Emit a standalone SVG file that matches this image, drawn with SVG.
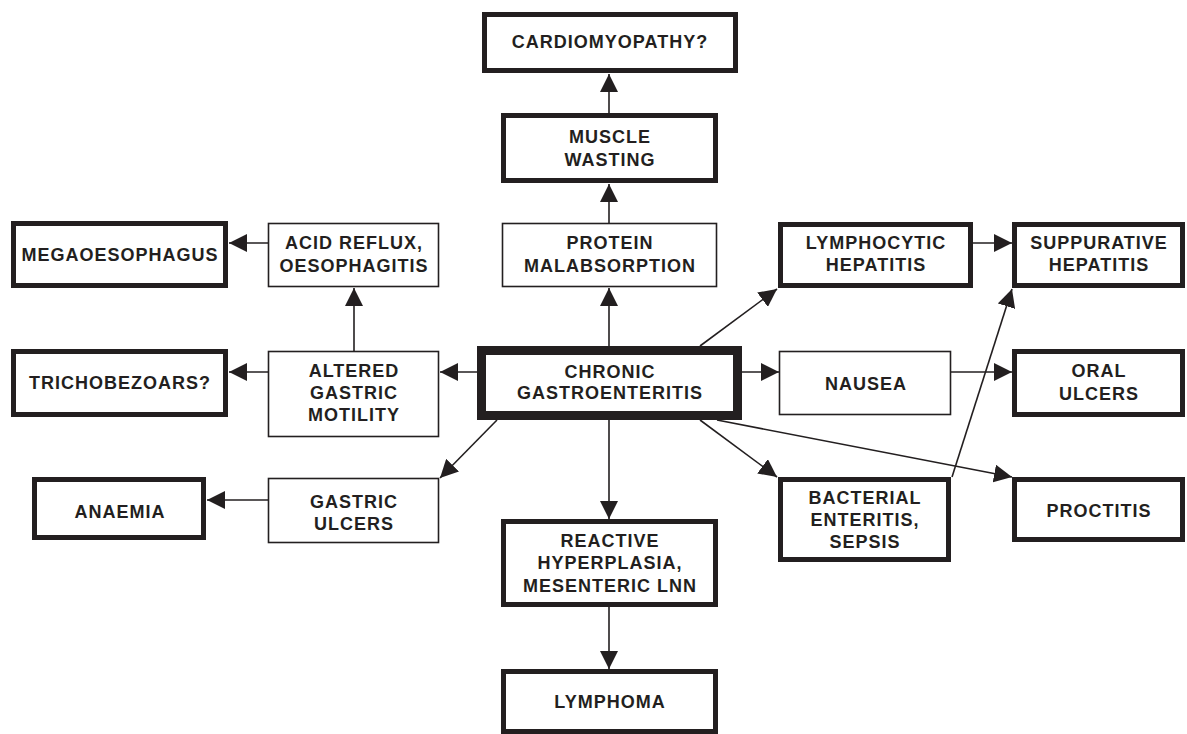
<svg xmlns="http://www.w3.org/2000/svg" width="1187" height="734" viewBox="0 0 1187 734">
<defs>
<style>
.thick{fill:#fff;stroke:#231f20;stroke-width:5}
.thin{fill:#fff;stroke:#231f20;stroke-width:1.6}
.core{fill:#fff;stroke:#231f20;stroke-width:9}
text{font-family:"Liberation Sans",Arial,Helvetica,sans-serif;font-weight:bold;font-size:18px;letter-spacing:1px;fill:#231f20;text-anchor:middle}
.c line{stroke:#231f20;stroke-width:1.6;marker-end:url(#ah)}
</style>
<marker id="ah" markerUnits="userSpaceOnUse" markerWidth="18" markerHeight="18" refX="18" refY="9" orient="auto" viewBox="0 0 18 18">
<path d="M0,0 L18,9 L0,18 z" fill="#231f20"/>
</marker>
</defs>
<rect width="1187" height="734" fill="#fff"/>
<g class="c" id="connectors">
<line x1="609" y1="113" x2="609" y2="74"/>
<line x1="609" y1="223" x2="609" y2="184"/>
<line x1="609" y1="346" x2="609" y2="288"/>
<line x1="477" y1="372" x2="440" y2="372"/>
<line x1="268" y1="372" x2="229" y2="372"/>
<line x1="354" y1="351" x2="354" y2="288"/>
<line x1="268" y1="243" x2="229" y2="243"/>
<line x1="497" y1="420" x2="440" y2="478"/>
<line x1="268" y1="500" x2="207" y2="500"/>
<line x1="609" y1="420" x2="609" y2="519"/>
<line x1="609" y1="607" x2="609" y2="669"/>
<line x1="700" y1="346" x2="777" y2="289"/>
<line x1="973" y1="243" x2="1012" y2="243"/>
<line x1="742" y1="372" x2="779" y2="372"/>
<line x1="951" y1="372" x2="1012" y2="372"/>
<line x1="700" y1="420" x2="777" y2="477"/>
<line x1="952" y1="477" x2="1012" y2="289"/>
<line x1="717" y1="420" x2="1012" y2="477"/>
</g>
<g id="cardiomyopathy"><rect class="thick" x="484.5" y="14.5" width="251" height="56"/><text x="610" y="48">CARDIOMYOPATHY?</text></g>
<g id="muscle-wasting"><rect class="thick" x="503.5" y="115.5" width="212" height="65"/><text x="610" y="143">MUSCLE</text><text x="610" y="166">WASTING</text></g>
<g id="protein-malabsorption"><rect class="thin" x="502.5" y="223.5" width="214" height="63"/><text x="610" y="249">PROTEIN</text><text x="610" y="272">MALABSORPTION</text></g>
<g id="chronic-gastroenteritis"><rect class="core" x="481.5" y="350.5" width="256" height="65"/><text x="610" y="378">CHRONIC</text><text x="610" y="399">GASTROENTERITIS</text></g>
<g id="megaoesophagus"><rect class="thick" x="13.5" y="223.5" width="212" height="62"/><text x="120" y="261">MEGAOESOPHAGUS</text></g>
<g id="acid-reflux"><rect class="thin" x="268.5" y="223.5" width="170" height="63"/><text x="354" y="249">ACID REFLUX,</text><text x="354" y="272">OESOPHAGITIS</text></g>
<g id="trichobezoars"><rect class="thick" x="13.5" y="351.5" width="212" height="63"/><text x="120" y="389">TRICHOBEZOARS?</text></g>
<g id="altered-gastric-motility"><rect class="thin" x="268.5" y="351.5" width="170" height="85"/><text x="354" y="377">ALTERED</text><text x="354" y="399">GASTRIC</text><text x="354" y="421">MOTILITY</text></g>
<g id="anaemia"><rect class="thick" x="34.5" y="479.5" width="169" height="58"/><text x="120" y="518">ANAEMIA</text></g>
<g id="gastric-ulcers"><rect class="thin" x="268.5" y="478.5" width="170" height="64"/><text x="354" y="508">GASTRIC</text><text x="354" y="530">ULCERS</text></g>
<g id="lymphocytic-hepatitis"><rect class="thick" x="780.5" y="224.5" width="190" height="61"/><text x="876" y="249">LYMPHOCYTIC</text><text x="876" y="271">HEPATITIS</text></g>
<g id="suppurative-hepatitis"><rect class="thick" x="1014.5" y="224.5" width="168" height="61"/><text x="1099" y="249">SUPPURATIVE</text><text x="1099" y="271">HEPATITIS</text></g>
<g id="nausea"><rect class="thin" x="779.5" y="351.5" width="171" height="63"/><text x="866" y="390">NAUSEA</text></g>
<g id="oral-ulcers"><rect class="thick" x="1014.5" y="351.5" width="168" height="63"/><text x="1099" y="377">ORAL</text><text x="1099" y="400">ULCERS</text></g>
<g id="bacterial-enteritis"><rect class="thick" x="780.5" y="479.5" width="168" height="80"/><text x="865" y="504">BACTERIAL</text><text x="865" y="526">ENTERITIS,</text><text x="865" y="548">SEPSIS</text></g>
<g id="proctitis"><rect class="thick" x="1014.5" y="479.5" width="168" height="60"/><text x="1099" y="517">PROCTITIS</text></g>
<g id="reactive-hyperplasia"><rect class="thick" x="503.5" y="521.5" width="212" height="83"/><text x="610" y="547">REACTIVE</text><text x="610" y="569">HYPERPLASIA,</text><text x="610" y="592">MESENTERIC LNN</text></g>
<g id="lymphoma"><rect class="thick" x="503.5" y="671.5" width="212" height="60"/><text x="610" y="708">LYMPHOMA</text></g>
</svg>
